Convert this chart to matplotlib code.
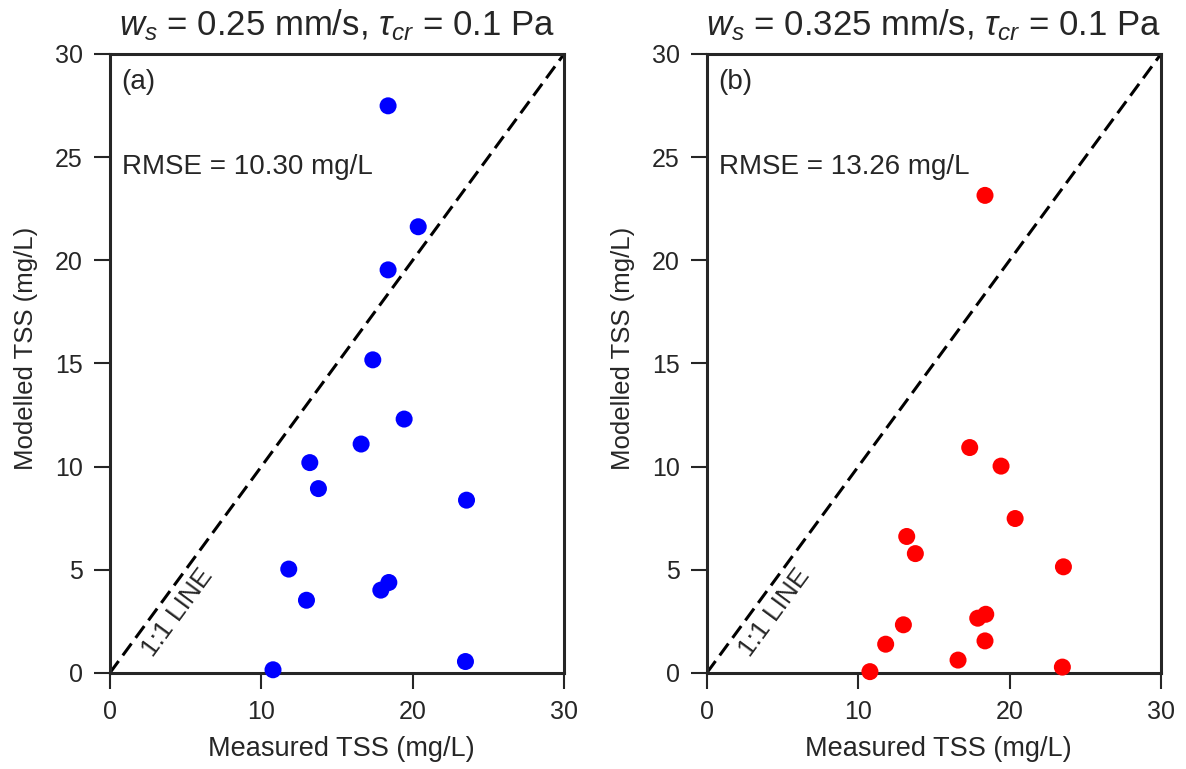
import matplotlib
matplotlib.use('Agg')
from matplotlib import pyplot as plt
import numpy as np
import seaborn as sns

# measured vs modelled TSS (mg/L)
measured = [18.37, 20.36, 18.37, 17.36, 19.43, 16.59, 13.20, 13.77,
            23.55, 11.81, 18.42, 17.89, 12.98, 23.48, 10.77]
modelled_a = [27.48, 21.62, 19.53, 15.17, 12.30, 11.09, 10.19, 8.93,
              8.37, 5.03, 4.38, 4.01, 3.52, 0.55, 0.15]
modelled_b = [23.14, 7.48, 1.55, 10.92, 10.02, 0.62, 6.61, 5.78,
              5.14, 1.39, 2.84, 2.65, 2.33, 0.28, 0.06]

titles = [r'$w_s$ = 0.25 mm/s, $\tau_{cr}$ = 0.1 Pa',
          r'$w_s$ = 0.325 mm/s, $\tau_{cr}$ = 0.1 Pa']
rmse = ['RMSE = 10.30 mg/L', 'RMSE = 13.26 mg/L']
panel = ['(a)', '(b)']
colors = ['blue', 'red']
ticks = [0, 10, 20, 30]
yticks = [0, 5, 10, 15, 20, 25, 30]


def run():
    sns.set_style('ticks')
    plt.rcParams['font.family'] = ['Liberation Sans', 'DejaVu Sans']
    plt.rcParams['mathtext.fontset'] = 'custom'
    plt.rcParams['mathtext.rm'] = 'Liberation Sans'
    plt.rcParams['mathtext.it'] = 'Liberation Sans:italic'

    fig = plt.figure(figsize=(11.86, 7.69), dpi=100)
    ax1 = fig.add_axes([0.0927, 0.125, 0.383, 0.805])
    ax2 = fig.add_axes([0.596, 0.125, 0.383, 0.805])

    for i, (ax, yy) in enumerate(zip([ax1, ax2], [modelled_a, modelled_b])):
        ax.plot([0, 30], [0, 30], color='k', ls='--', lw=2.2,
                dashes=(4.8, 2.3), zorder=2)
        ax.scatter(measured, yy, s=150, color=colors[i], edgecolors='none',
                   zorder=3, clip_on=False)
        ax.set_xlim(0, 30)
        ax.set_ylim(0, 30)
        ax.set_xticks(ticks)
        ax.set_yticks(yticks)
        ax.tick_params(labelsize=18, length=11.5, width=1.5, pad=8,
                       colors='#262626')
        for sp in ax.spines.values():
            sp.set_linewidth(2.2)
            sp.set_color('#262626')
        ax.set_xlabel('Measured TSS (mg/L)', fontsize=19.5, color='#262626',
                      va='center')
        ax.set_ylabel('Modelled TSS (mg/L)', fontsize=18.5, color='#262626',
                      va='center')
        ax.xaxis.set_label_coords(0.51, -0.123)
        ax.yaxis.set_label_coords(-0.185, 0.525)
        ax.set_title(titles[i], fontsize=25, pad=13)
        ax.text(0.025, 0.955, panel[i], transform=ax.transAxes,
                fontsize=20, va='center', ha='left')
        ax.text(0.026, 0.817, rmse[i], transform=ax.transAxes,
                fontsize=20, va='center', ha='left')
        ax.text(4.5, 2.9, '1:1 LINE', fontsize=19, rotation=53.7,
                ha='center', va='center', rotation_mode='anchor')

    fig.savefig('out.png', dpi=100)


if __name__ == '__main__':
    run()
